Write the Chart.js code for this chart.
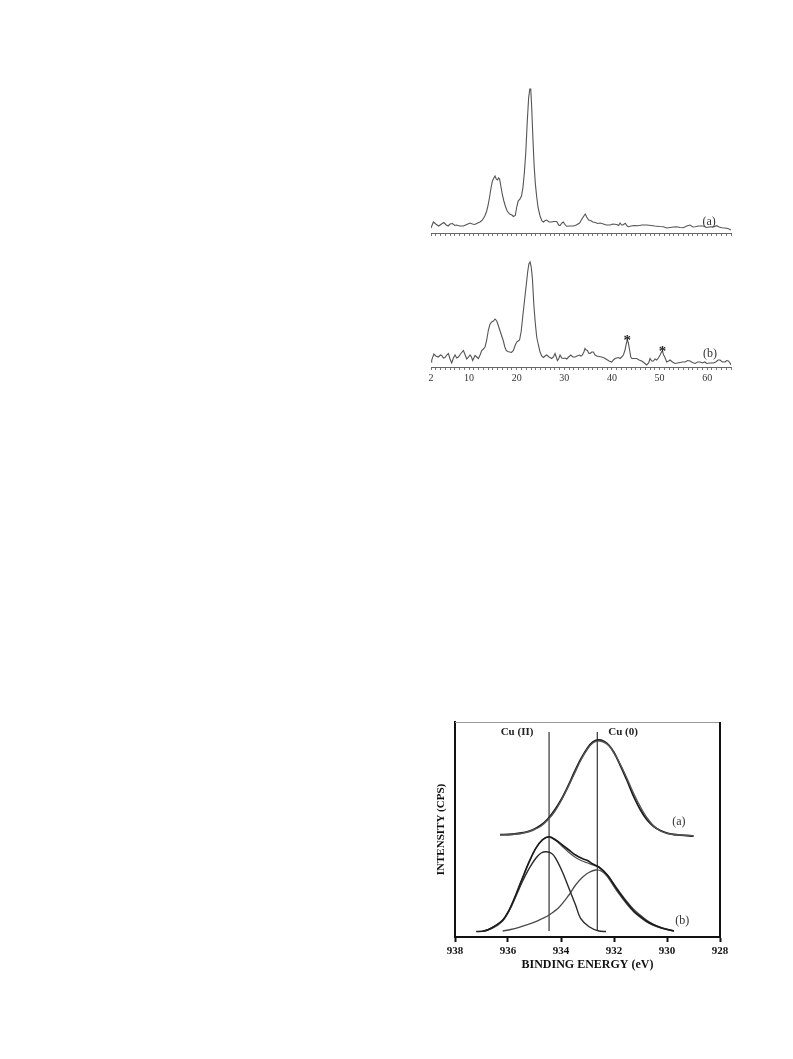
<!DOCTYPE html>
<html lang="en">
<head>
    <meta charset="UTF-8">
    <title>XRD and XPS</title>
    <script src="https://cdn.jsdelivr.net/npm/chart.js"></script>
    <style>
        body {
            margin: 0;
            background: #ffffff;
            width: 793px;
            height: 1059px;
            position: relative;
            overflow: hidden;
        }
        canvas {
            position: absolute;
        }
        #xrdA { left: 420px; top: 80px; }
        #xrdB { left: 420px; top: 245px; }
        #xps { left: 400px; top: 700px; }
    </style>
</head>
<body>
    <canvas id="xrdA" width="325" height="163"></canvas>
    <canvas id="xrdB" width="325" height="150"></canvas>
    <canvas id="xps" width="345" height="277"></canvas>

    <script>
        // XRD pattern (a)
        const twoThetaA = [2.0, 2.5, 3.0, 3.6, 4.2, 4.7, 5.2, 5.6, 6.0, 6.5, 7.0, 7.4, 8.0, 8.8, 9.5, 10.2, 10.7, 11.2, 11.8, 12.3,
            12.8, 13.3, 13.7, 14.0, 14.3, 14.6, 14.9, 15.2, 15.45, 15.7, 15.95, 16.2, 16.4, 16.7, 17.0, 17.3, 17.6, 18.0, 18.5, 19.0,
            19.3, 19.7, 20.0, 20.3, 20.7, 21.0, 21.3, 21.6, 21.9, 22.2, 22.5, 22.75, 22.95, 23.15, 23.4, 23.65, 23.9, 24.2, 24.5, 24.9,
            25.3, 25.6, 26.0, 26.3, 26.8, 27.3, 27.8, 28.4, 28.8, 29.1, 29.5, 29.8, 30.2, 30.5, 31.2, 31.9, 32.5, 33.2, 33.7, 34.1,
            34.4, 34.7, 35.1, 35.5, 36.0, 36.5, 37.0, 37.5, 38.2, 38.8, 39.6, 40.2, 41.0, 41.4, 41.7, 42.0, 42.3, 42.8, 43.2, 43.5,
            44.0, 44.6, 45.5, 46.3, 47.3, 48.2, 49.0, 50.0, 50.8, 51.5, 52.2, 52.9, 53.6, 54.3, 55.0, 55.7, 56.4, 57.0, 57.5, 58.2,
            59.2, 59.9, 60.6, 61.3, 62.0, 62.5, 63.1, 63.6, 64.1, 64.6, 65.0];
        const intensityA = [5, 11, 9, 7, 9, 10.5, 8, 7, 9, 9.5, 7.5, 8, 7, 7, 8.5, 10, 9, 8.5, 10, 11,
            13, 17, 22, 28, 36, 45, 52, 55, 57, 54, 53, 55, 54, 46, 38, 32, 27, 22, 19, 18,
            16.5, 17.5, 26, 32, 34, 37, 45, 60, 80, 110, 135, 144, 144, 125, 95, 68, 50, 36, 25, 17,
            12, 11, 12.5, 13, 11, 11, 11.5, 11.5, 8, 7.5, 10, 11, 8, 6.7, 7, 7, 8, 10, 14, 17,
            19, 16, 13, 12.5, 11, 10.5, 9.5, 10, 9, 8, 8, 9, 8.5, 7.5, 10, 8, 8, 9.7, 7, 6.3,
            7, 7.5, 7.3, 8, 8, 7.5, 7, 6.5, 6.3, 5, 5.5, 6, 6.3, 5.5, 5.3, 7, 8, 6, 6.3, 7,
            7, 5.5, 6.3, 6, 7.3, 6, 5.3, 5, 4.7, 4, 3];

        // XRD pattern (b)
        const twoThetaB = [2.0, 2.15, 2.6, 3.0, 3.5, 4.0, 4.25, 4.6, 4.95, 5.3, 5.65, 6.0, 6.35, 6.7, 7.05, 7.4, 7.75, 8.2, 8.8, 9.1,
            9.5, 9.9, 10.2, 10.5, 10.75, 11.0, 11.25, 11.6, 11.95, 12.3, 12.65, 13.0, 13.35, 13.7, 14.05, 14.4, 14.75, 15.1, 15.45, 15.8,
            16.1, 16.5, 16.85, 17.2, 17.5, 17.8, 18.1, 18.5, 18.9, 19.3, 19.7, 20.0, 20.3, 20.6, 20.95, 21.3, 21.65, 22.0, 22.3, 22.55,
            22.8, 23.05, 23.3, 23.6, 23.9, 24.2, 24.55, 24.9, 25.25, 25.6, 25.95, 26.3, 26.8, 27.35, 27.7, 28.05, 28.3, 28.55, 28.8, 29.1,
            29.45, 29.8, 30.15, 30.5, 30.9, 31.35, 31.8, 32.25, 32.7, 33.15, 33.5, 33.8, 34.1, 34.35, 34.6, 34.85, 35.1, 35.4, 35.75, 36.1,
            36.45, 36.8, 37.3, 37.85, 38.4, 38.9, 39.4, 39.95, 40.3, 40.65, 41.0, 41.35, 41.7, 42.05, 42.4, 42.75, 43.0, 43.25, 43.45, 43.7,
            43.95, 44.2, 44.7, 45.2, 45.7, 46.25, 46.8, 47.3, 47.7, 48.0, 48.35, 48.7, 49.05, 49.4, 49.75, 50.1, 50.4, 50.6, 50.85, 51.05,
            51.5, 51.9, 52.2, 52.7, 53.25, 53.8, 54.3, 54.8, 55.35, 55.9, 56.4, 56.9, 57.45, 58.0, 58.5, 59.0, 59.5, 59.9, 60.5, 61.3,
            61.8, 62.3, 62.7, 63.2, 63.75, 64.1, 64.45, 64.8, 65.0];
        const intensityB = [5, 7, 13, 11, 10, 12, 11.5, 9, 9.5, 12, 13.5, 8, 4, 9, 12, 9, 10, 13, 16.5, 13,
            8, 10, 12, 10, 6.5, 9, 11.5, 10, 8.5, 12, 16.5, 18, 20, 27, 37, 43, 45, 46, 48, 46,
            42, 36, 31, 26, 20, 16.5, 15.5, 15, 14.5, 16.5, 22, 25, 26, 27, 36, 52, 67, 82, 95, 103,
            105, 100, 88, 62, 44, 30, 22, 15, 11, 9.5, 11, 12, 10, 8.5, 10, 13.5, 10, 6.5, 8, 12,
            9, 8.5, 9, 8, 10, 12, 10, 10, 11, 12, 11, 12, 15, 18.5, 17, 16.5, 14, 13.5, 15, 15,
            12, 11, 10.5, 10, 9, 7.5, 6, 5, 7, 8.5, 9, 9.5, 8.5, 10, 12, 17, 23, 27, 24, 17,
            10, 8.5, 8.5, 8.5, 7, 6, 4, 2, 4, 8.5, 6, 6, 8, 7, 9, 12, 15, 16, 12, 10.5,
            5, 6, 7, 5, 3.5, 4, 4.5, 5, 5, 6.5, 6, 4.5, 3.5, 5, 5, 4, 5, 3.5, 4, 4,
            5, 7, 7, 5, 5, 6.5, 6, 4, 2];

        const xrdTickLabels = [2, 10, 20, 30, 40, 50, 60];
        const starTwoTheta = [43.2, 50.6];
        const starIntensity = [30, 19];

        // XPS Cu 2p3/2, binding energy (eV) vs intensity
        const beFitA = [936.3, 936.0, 935.75, 935.5, 935.25, 935.0, 934.75, 934.5, 934.25, 934.0, 933.75, 933.5, 933.25, 933.0, 932.8,
            932.6, 932.4, 932.2, 932.0, 931.75, 931.5, 931.25, 931.0, 930.75, 930.5, 930.25, 930.0, 929.75, 929.5, 929.0];
        const fitA = [102, 102.3, 102.8, 103.5, 105, 107.5, 111, 117, 125, 136, 149, 163, 177, 188, 194,
            196, 195, 191.5, 184, 172, 158, 143, 130, 119, 111, 106, 103.5, 102.5, 102, 101.3];
        const expA = [102.3, 102.5, 103, 104, 105.5, 108, 112, 118, 126.5, 137, 150, 164.5, 178, 189, 195,
            197, 196, 192, 184.5, 171, 156, 140, 127, 117, 110.5, 106.5, 104, 102.5, 101.8, 101];

        const beExpB = [937.2, 936.9, 936.6, 936.2, 935.96, 935.71, 935.46, 935.2, 934.95, 934.7, 934.45, 934.2, 933.95, 933.7,
            933.45, 933.2, 933.0, 932.8, 932.57, 932.25, 931.87, 931.5, 931.25, 930.99, 930.75, 930.49, 930.2, 929.74];
        const expB = [5.5, 6, 9.3, 17, 27, 42, 58.7, 75.3, 88.7, 97, 100.3, 97, 92, 87,
            82, 78.5, 76.5, 73, 70, 62, 47, 33.7, 26, 20.3, 15.5, 12, 9, 6];
        const beFitB = [936.95, 936.6, 936.2, 935.96, 935.71, 935.46, 935.2, 934.95, 934.7, 934.45, 934.2, 933.95, 933.7,
            933.45, 933.2, 933.0, 932.8, 932.57, 932.25, 931.87, 931.5, 931.25, 930.99, 930.75, 930.49, 930.2, 929.74];
        const fitB = [6, 8.5, 16, 26, 41, 58, 75, 89, 97.5, 100, 96.5, 90.5, 84.5,
            79.5, 76, 74, 72, 69.5, 62, 48, 35, 27.5, 21.5, 16.5, 12.5, 9.5, 6];

        const beCu2 = [936.95, 936.78, 936.53, 936.22, 935.96, 935.71, 935.46, 935.2, 934.95, 934.75, 934.55, 934.35, 934.2,
            933.95, 933.7, 933.45, 933.26, 932.94, 932.57, 932.3];
        const cu2 = [6, 7, 10.3, 16, 26, 40.3, 55.3, 68.7, 78.7, 84, 85.3, 83.5, 78.7,
            65.3, 48.7, 32, 18.7, 10.3, 6, 5.5];
        const beCu0 = [936.2, 935.9, 935.58, 935.25, 934.95, 934.7, 934.45, 934.08, 933.7, 933.45, 933.2, 932.95, 932.69,
            932.45, 932.25, 931.87, 931.5, 931.25, 930.99, 930.7, 930.36, 930.0, 929.74];
        const cu0 = [6, 7.5, 9.7, 12.5, 15.3, 18.5, 22, 29.5, 42, 52, 59.5, 64.5, 67,
            65.5, 60.3, 45.3, 32.3, 25, 19.3, 14, 10, 7.5, 6];

        const refLineBE = [934.45, 932.63];
        const refLineLabels = ['Cu (II)', 'Cu (0)'];
        const refLabelBE = [935.66, 931.66];
        const refLineTop = 205;
        const refLineBottom = 6;

        const serif = "'Liberation Serif', 'DejaVu Serif', serif";

        function pts(xs, ys) {
            return xs.map((x, i) => ({ x: x, y: ys[i] }));
        }

        function textPlugin(items) {
            return {
                id: 'textMarks',
                afterDatasetsDraw(chart) {
                    const ctx = chart.ctx;
                    const xs = chart.scales.x, ys = chart.scales.y;
                    ctx.save();
                    items.forEach(it => {
                        ctx.font = it.font;
                        ctx.fillStyle = it.color || '#222';
                        ctx.textAlign = 'center';
                        ctx.textBaseline = it.baseline || 'middle';
                        ctx.fillText(it.text, xs.getPixelForValue(it.x), ys.getPixelForValue(it.y) + (it.dy || 0));
                    });
                    ctx.restore();
                }
            };
        }

        function xrdChart(id, xs, ys, yMax, padTop, axisH, showLabels, marks) {
            return new Chart(document.getElementById(id), {
                type: 'line',
                data: {
                    datasets: [{
                        data: pts(xs, ys),
                        borderColor: '#555',
                        borderWidth: 1.1,
                        pointRadius: 0,
                        tension: 0
                    }]
                },
                options: {
                    responsive: false,
                    animation: false,
                    devicePixelRatio: 1,
                    layout: { padding: { left: 11, right: 14, top: padTop, bottom: 0 } },
                    plugins: { legend: { display: false }, tooltip: { enabled: false } },
                    scales: {
                        x: {
                            type: 'linear',
                            min: 2,
                            max: 65,
                            ticks: {
                                display: showLabels,
                                stepSize: 1,
                                autoSkip: false,
                                maxTicksLimit: 100,
                                maxRotation: 0,
                                padding: 2,
                                color: '#333',
                                font: { family: serif, size: 10 },
                                callback: v => xrdTickLabels.includes(v) ? String(v) : ''
                            },
                            grid: { drawOnChartArea: false, drawTicks: true, tickLength: 3, tickColor: '#777' },
                            border: { display: true, color: '#666', width: 1 },
                            afterFit: s => { s.height = axisH; }
                        },
                        y: { display: false, min: 0, max: yMax }
                    }
                },
                plugins: [textPlugin(marks)]
            });
        }

        xrdChart('xrdA', twoThetaA, intensityA, 146, 7, 10, false, [
            { text: '(a)', x: 60.4, y: 11, font: '12px ' + serif, color: '#333' }
        ]);

        const marksB = [{ text: '(b)', x: 60.6, y: 13, font: '12px ' + serif, color: '#333' }];
        starTwoTheta.forEach((t, i) => {
            marksB.push({ text: '*', x: t, y: starIntensity[i], font: 'bold 15px ' + serif, color: '#222', dy: 4 });
        });
        xrdChart('xrdB', twoThetaB, intensityB, 117, 5, 28, true, marksB);

        // XPS chart
        const frame = {
            id: 'frame',
            afterDraw(chart) {
                const { ctx, chartArea } = chart;
                ctx.save();
                ctx.strokeStyle = '#9a9a9a';
                ctx.lineWidth = 1;
                ctx.beginPath();
                ctx.moveTo(chartArea.left, chartArea.top + 0.5);
                ctx.lineTo(chartArea.right, chartArea.top + 0.5);
                ctx.stroke();
                ctx.strokeStyle = '#111';
                ctx.lineWidth = 2;
                ctx.beginPath();
                ctx.moveTo(chartArea.right, chartArea.top);
                ctx.lineTo(chartArea.right, chartArea.bottom);
                ctx.stroke();
                ctx.restore();
            }
        };

        const curve = (data, color, width) => ({
            data: data,
            borderColor: color,
            borderWidth: width,
            pointRadius: 0,
            tension: 0.35
        });

        const xpsMarks = [
            { text: '(a)', x: 929.55, y: 114.7, font: '12px ' + serif, color: '#333' },
            { text: '(b)', x: 929.42, y: 16, font: '12px ' + serif, color: '#333' }
        ];
        refLineLabels.forEach((t, i) => {
            xpsMarks.push({ text: t, x: refLabelBE[i], y: refLineTop, font: 'bold 11px ' + serif, color: '#222' });
        });

        new Chart(document.getElementById('xps'), {
            type: 'line',
            data: {
                datasets: [
                    curve(pts(beFitA, fitA), '#555', 1.4),
                    curve(pts(beFitA, expA), '#1a1a1a', 1.8),
                    curve(pts(beExpB, expB), '#1a1a1a', 1.6),
                    curve(pts(beFitB, fitB), '#555', 1.3),
                    curve(pts(beCu2, cu2), '#2a2a2a', 1.4),
                    curve(pts(beCu0, cu0), '#4a4a4a', 1.3),
                    ...refLineBE.map(be => ({
                        data: [{ x: be, y: refLineBottom }, { x: be, y: refLineTop }],
                        borderColor: '#333',
                        borderWidth: 1.2,
                        pointRadius: 0
                    }))
                ]
            },
            options: {
                responsive: false,
                animation: false,
                devicePixelRatio: 1,
                layout: { padding: { left: 35, right: 25, top: 22, bottom: 0 } },
                plugins: { legend: { display: false }, tooltip: { enabled: false } },
                scales: {
                    x: {
                        type: 'linear',
                        min: 928,
                        max: 938,
                        reverse: true,
                        ticks: {
                            stepSize: 2,
                            maxRotation: 0,
                            padding: 3,
                            color: '#111',
                            font: { family: serif, size: 11, weight: 'bold' }
                        },
                        grid: { drawOnChartArea: false, drawTicks: true, tickLength: 5, tickColor: '#111', tickWidth: 2 },
                        border: { display: true, color: '#111', width: 2 },
                        title: {
                            display: true,
                            text: 'BINDING ENERGY (eV)',
                            color: '#111',
                            font: { family: serif, size: 12, weight: 'bold' },
                            padding: { top: 0, bottom: 5 }
                        },
                        afterFit: s => { s.height = 40; }
                    },
                    y: {
                        min: 0,
                        max: 215,
                        ticks: { display: false },
                        grid: { display: false },
                        border: { display: true, color: '#111', width: 2 },
                        title: {
                            display: true,
                            text: 'INTENSITY (CPS)',
                            color: '#111',
                            font: { family: serif, size: 11, weight: 'bold' },
                            padding: { top: 0, bottom: 0 }
                        },
                        afterFit: s => { s.width = 20; }
                    }
                }
            },
            plugins: [frame, textPlugin(xpsMarks)]
        });
    </script>
</body>
</html>
